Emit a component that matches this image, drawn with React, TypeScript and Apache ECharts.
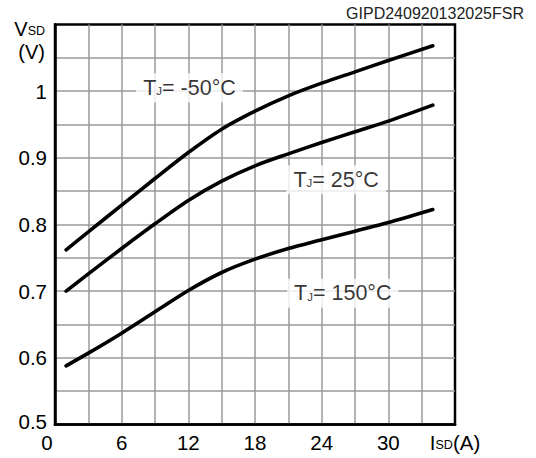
import React, { useEffect, useRef } from "react";
import * as echarts from "echarts";

// ---- data ----
const currentA = [1, 3, 6, 9, 12, 15, 18, 21, 24, 27, 30, 34];
const vsdMinus50 = [0.762, 0.789, 0.829, 0.869, 0.908, 0.943, 0.97, 0.993, 1.012, 1.029, 1.046, 1.068];
const vsd25 = [0.7, 0.726, 0.764, 0.801, 0.836, 0.865, 0.888, 0.906, 0.923, 0.939, 0.955, 0.979];
const vsd150 = [0.588, 0.607, 0.637, 0.669, 0.701, 0.728, 0.748, 0.764, 0.777, 0.79, 0.803, 0.8225];
const temperatures = ["-50", "25", "150"];
const labelCurrent = [12.1, 25.3, 25.9];
const labelVoltage = [1.005, 0.867, 0.697];
const xLabelStep = 6;
const yLabelStep = 0.1;
const docCode = "GIPD240920132025FSR";

const FONT = '"Liberation Sans", Arial, Helvetica, sans-serif';

export default function App() {
  const ref = useRef<HTMLDivElement>(null);
  useEffect(() => {
    if (!ref.current) return;
    const chart = echarts.init(ref.current, undefined, { renderer: "svg" });
    const curves = [vsdMinus50, vsd25, vsd150];
    const option: any = {
      animation: false,
      backgroundColor: "#fff",
      textStyle: { fontFamily: FONT, color: "#000" },
      grid: {
        show: true,
        left: 55,
        top: 24.5,
        width: 400,
        height: 400,
        borderColor: "#000",
        borderWidth: 2.5,
        backgroundColor: "transparent",
      },
      xAxis: {
        type: "value",
        min: 0,
        max: 36,
        interval: 3,
        axisLine: { show: true, onZero: false, lineStyle: { color: "#000", width: 2.5 } },
        axisTick: { show: false },
        splitLine: { show: true, showMinLine: false, showMaxLine: false, lineStyle: { color: "#9a9a9a", width: 1.5 } },
        axisLabel: {
          show: true,
          showMinLabel: true,
          showMaxLabel: true,
          margin: 7,
          fontSize: 20.5,
          fontFamily: FONT,
          color: "#000",
          formatter: (v: number) => {
            const r = Math.round(v);
            if (r === 36) return "{a|I}{s|SD}{a|(A)}";
            if (r === 0) return "{z|0}";
            if (r % xLabelStep !== 0) return "";
            return String(r);
          },
          rich: {
            a: { fontSize: 20.5, fontFamily: FONT, color: "#000", lineHeight: 22 },
            s: { fontSize: 12.5, fontFamily: FONT, color: "#000", height: 16.5, lineHeight: 16.5, verticalAlign: "bottom" },
            z: { fontSize: 20.5, fontFamily: FONT, color: "#000", lineHeight: 22, padding: [0, 16, 0, 0] },
          },
        },
      },
      yAxis: {
        type: "value",
        min: 0.5,
        max: 1.1,
        interval: 0.05,
        axisLine: { show: true, onZero: false, lineStyle: { color: "#000", width: 2.5 } },
        axisTick: { show: false },
        splitLine: { show: true, showMinLine: false, showMaxLine: false, lineStyle: { color: "#9a9a9a", width: 1.5 } },
        axisLabel: {
          show: true,
          showMinLabel: true,
          showMaxLabel: true,
          margin: 8,
          fontSize: 20.5,
          fontFamily: FONT,
          color: "#000",
          formatter: (v: number) => {
            const r = Math.round(v * 100);
            const step = Math.round(yLabelStep * 100);
            if (r === 110) return "";
            if (r % step !== 0) return "";
            if (r === 100) return "1";
            if (r === 50) return "{z|0.5}";
            return (r / 100).toFixed(1);
          },
          rich: {
            z: { fontSize: 20.5, fontFamily: FONT, color: "#000", padding: [0, 0, 7, 0] },
          },
        },
      },
      graphic: [
        {
          type: "text",
          x: 45,
          y: 17,
          style: {
            text: "{v|V}{s|SD}\n{v|(V)}",
            align: "right",
            verticalAlign: "top",
            rich: {
              v: { fontSize: 20, fontFamily: FONT, fill: "#000", lineHeight: 23 },
              s: { fontSize: 12.5, fontFamily: FONT, fill: "#000", height: 17.8, lineHeight: 17.8, verticalAlign: "bottom" },
            },
          },
        },
        {
          type: "text",
          x: 524,
          y: 5,
          style: {
            text: docCode,
            align: "right",
            verticalAlign: "top",
            fontSize: 16,
            fontFamily: FONT,
            fill: "#222",
          },
        },
      ],
      series: [
        ...curves.map((vals, k) => ({
          type: "line",
          name: temperatures[k],
          data: currentA.map((x, i) => [x, vals[i]]),
          smooth: 0.3,
          symbol: "none",
          showSymbol: false,
          silent: true,
          lineStyle: { color: "#000", width: 3.6, cap: "round" },
          z: 3,
        })),
        {
          type: "scatter",
          silent: true,
          symbolSize: 0,
          z: 5,
          data: labelCurrent.map((x, i) => [x, labelVoltage[i]]),
          label: {
            show: true,
            position: "inside",
            align: "center",
            verticalAlign: "middle",
            backgroundColor: "#fff",
            padding: [3.5, 7],
            formatter: (p: any) => `{t|T}{j|J}{t|= ${temperatures[p.dataIndex]}°C}`,
            rich: {
              t: { fontSize: 21.5, fontFamily: FONT, color: "#000", lineHeight: 22 },
              j: { fontSize: 11.5, fontFamily: FONT, color: "#000", height: 15, lineHeight: 15, verticalAlign: "bottom" },
            },
          },
        },
      ],
    };
    chart.setOption(option);
    return () => chart.dispose();
  }, []);
  return (
    <div
      ref={ref}
      style={{ position: "absolute", left: 0, top: 0, width: 536, height: 458, background: "#fff" }}
    />
  );
}
